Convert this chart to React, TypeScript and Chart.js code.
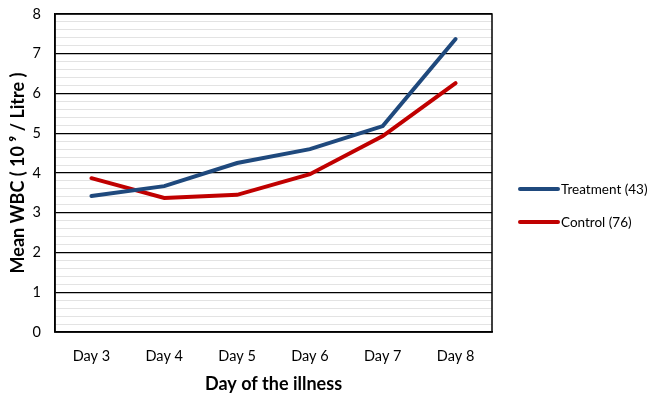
import React, { useEffect, useRef } from "react";
import { Chart, registerables } from "chart.js";

Chart.register(...registerables);

const days = ["Day 3", "Day 4", "Day 5", "Day 6", "Day 7", "Day 8"];
const treatment = [3.42, 3.67, 4.25, 4.6, 5.18, 7.37];
const control = [3.87, 3.37, 3.45, 3.97, 4.93, 6.26];
const seriesNames = ["Treatment (43)", "Control (76)"];
const seriesColors = ["#1F497D", "#C00000"];

const FONT = "Lato, 'Liberation Sans', sans-serif";

const boxPlugin = {
  id: "plotBox",
  afterDatasetsDraw(chart: any) {
    const { ctx, chartArea } = chart;
    ctx.save();
    ctx.strokeStyle = "#000";
    ctx.lineWidth = 1.5;
    ctx.strokeRect(chartArea.left, chartArea.top, chartArea.right - chartArea.left, chartArea.bottom - chartArea.top);
    ctx.restore();
  },
};

const legendPlugin = {
  id: "sideLegend",
  afterDraw(chart: any) {
    const { ctx, chartArea } = chart;
    const x0 = chartArea.right + 28;
    const yc = (chartArea.top + chartArea.bottom) / 2;
    ctx.save();
    ctx.font = `13.5px ${FONT}`;
    ctx.textBaseline = "middle";
    ctx.fillStyle = "#000";
    chart.data.datasets.forEach((ds: any, i: number) => {
      const y = yc + 16 + i * 33;
      ctx.strokeStyle = ds.borderColor;
      ctx.lineWidth = 4;
      ctx.lineCap = "round";
      ctx.beginPath();
      ctx.moveTo(x0, y);
      ctx.lineTo(x0 + 38, y);
      ctx.stroke();
      ctx.fillText(ds.label, x0 + 41, y + 1);
    });
    ctx.restore();
  },
};

export default function App() {
  const ref = useRef<HTMLCanvasElement>(null);
  useEffect(() => {
    if (!ref.current) return;
    const isInt = (v: number) => Math.abs(v - Math.round(v)) < 1e-6;
    const chart = new Chart(ref.current, {
      type: "line",
      data: {
        labels: days,
        datasets: [
          {
            label: seriesNames[0],
            data: treatment,
            borderColor: seriesColors[0],
            backgroundColor: seriesColors[0],
            borderWidth: 4,
            pointRadius: 0,
            tension: 0,
            borderCapStyle: "round",
          },
          {
            label: seriesNames[1],
            data: control,
            borderColor: seriesColors[1],
            backgroundColor: seriesColors[1],
            borderWidth: 4,
            pointRadius: 0,
            tension: 0,
            borderCapStyle: "round",
          },
        ],
      },
      options: {
        animation: false,
        responsive: false,
        layout: { padding: { top: 14, bottom: 2, left: 4, right: 172 } },
        plugins: {
          legend: { display: false },
          tooltip: { enabled: false },
        },
        scales: {
          x: {
            offset: true,
            grid: { display: false, drawTicks: false },
            border: { display: true, color: "#000", width: 1.5 },
            ticks: { color: "#000", font: { family: FONT, size: 14.5 }, padding: 16 },
            title: {
              display: true,
              text: "Day of the illness",
              color: "#000",
              font: { family: FONT, size: 18, weight: "bold" },
              padding: { top: -8, bottom: 0 },
            },
          },
          y: {
            min: 0,
            max: 8,
            border: { display: true, color: "#000", width: 1.5 },
            grid: {
              drawTicks: true,
              tickLength: 13,
              tickColor: "rgba(0,0,0,0)",
              color: (c: any) => (isInt(c.tick.value) ? "#000" : "#e3e3e3"),
              lineWidth: (c: any) => (isInt(c.tick.value) ? 1.2 : 1),
            },
            ticks: {
              stepSize: 0.2,
              autoSkip: false,
              color: "#000",
              padding: 1,
              font: { family: FONT, size: 14.5 },
              callback: (v: any) => (isInt(Number(v)) ? String(Math.round(Number(v))) : ""),
            },
            title: {
              display: true,
              text: "Mean WBC ( 10 \u2079 / Litre )",
              color: "#000",
              font: { family: FONT, size: 18, weight: "bold" },
              padding: { top: 3, bottom: 3 },
            },
          },
        },
      },
      plugins: [boxPlugin, legendPlugin],
    });
    return () => chart.destroy();
  }, []);
  return (
    <div style={{ position: "absolute", left: 0, top: 0, width: 664, height: 397, background: "#fff" }}>
      <canvas ref={ref} width={664} height={397} />
    </div>
  );
}
